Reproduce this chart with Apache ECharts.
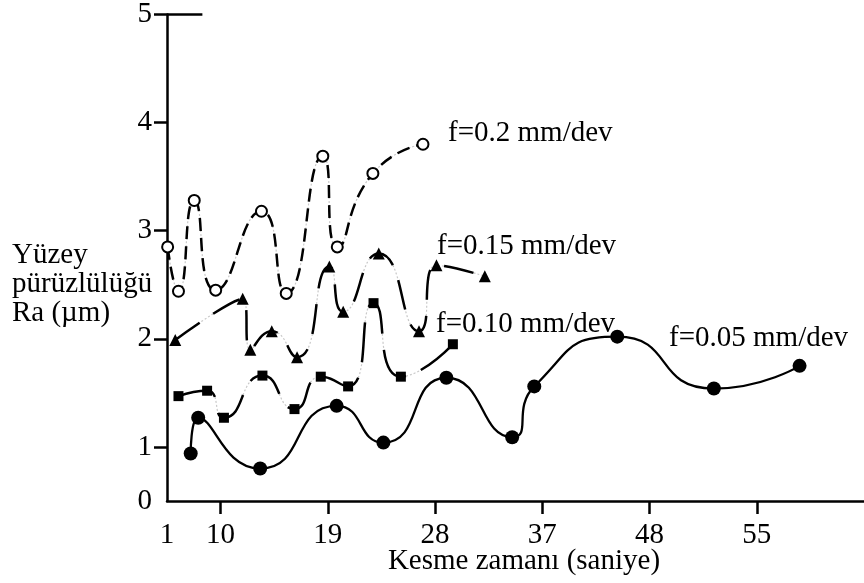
<!DOCTYPE html>
<html>
<head>
<meta charset="utf-8">
<script src="https://cdn.jsdelivr.net/npm/echarts@6/dist/echarts.min.js"></script>
<style>
  html, body { margin: 0; padding: 0; background: #fff; }
  #chart { width: 864px; height: 583px; }
</style>
</head>
<body>
<div id="chart"></div>
<script>
// Axis ticks: positions on the drawing scale (one unit per tick step) and their printed labels
const xTickPos = [0.5, 1, 2, 3, 4, 5, 6];
const xTickLabels = ['1', '10', '19', '28', '37', '48', '55'];
const yTickPos = [0.5, 1, 2, 3, 4, 5];
const yTickLabels = ['0', '1', '2', '3', '4', '5'];

// Feed rate series: x on the tick-step scale, y = Ra (µm)
const f02X = [0.506, 0.607, 0.754, 0.954, 1.381, 1.612, 1.953, 2.088, 2.420, 2.887];
const f02Y = [2.85, 2.44, 3.28, 2.45, 3.18, 2.42, 3.69, 2.85, 3.53, 3.80];

const f015X = [0.577, 1.206, 1.277, 1.477, 1.713, 2.014, 2.143, 2.475, 2.850, 3.013, 3.464];
const f015Y = [1.99, 2.37, 1.90, 2.07, 1.83, 2.67, 2.25, 2.79, 2.07, 2.68, 2.58];

const f010X = [0.607, 0.874, 1.031, 1.390, 1.689, 1.934, 2.189, 2.426, 2.681, 3.166];
const f010Y = [1.47, 1.52, 1.27, 1.66, 1.35, 1.65, 1.56, 2.33, 1.65, 1.95];

const f005X = [0.721, 0.791, 1.369, 2.082, 2.518, 3.105, 3.719, 3.925, 4.699, 5.600, 6.399];
const f005Y = [0.94, 1.27, 0.80, 1.38, 1.04, 1.64, 1.09, 1.56, 2.02, 1.54, 1.75];

const seriesLabels = ['f=0.2 mm/dev', 'f=0.15 mm/dev', 'f=0.10 mm/dev', 'f=0.05 mm/dev'];
const xTitle = 'Kesme zamanı (saniye)';
const yTitle = 'Yüzey\npürüzlülüğü\nRa (µm)';

const FONT = '"Liberation Serif", "Times New Roman", serif';
const FS = 29;
const SMOOTH = 0.6;

function pairs(xs, ys) { return xs.map((x, i) => [x, ys[i]]); }

// Light dotted trace under each dashed curve
function traceSeries(data) {
  return {
    type: 'line', data, smooth: SMOOTH, symbol: 'none', silent: true, z: 1,
    lineStyle: { color: '#c9c9c9', width: 1.2, type: [2, 2] }
  };
}

function mainSeries(name, data, symbol, size, fill, dash, width) {
  return {
    name, type: 'line', data, smooth: SMOOTH, z: 3,
    symbol, symbolSize: size, showAllSymbol: true,
    itemStyle: { color: fill, borderColor: '#000', borderWidth: fill === '#fff' ? 2 : 0 },
    lineStyle: { color: '#000', width, type: dash }
  };
}

function label(text, x, y, extra) {
  return { type: 'text', x, y, style: Object.assign({ text, font: `${FS}px ${FONT}`, fill: '#000', verticalAlign: 'middle' }, extra || {}) };
}

const chart = echarts.init(document.getElementById('chart'), null, { renderer: 'canvas' });

const solid = mainSeries(seriesLabels[3], pairs(f005X, f005Y), 'circle', 14, '#000', 'solid', 2.3);
// short cap line at the top of the value axis
solid.markLine = {
  silent: true, symbol: 'none', label: { show: false },
  lineStyle: { color: '#000', width: 2.5, type: 'solid' },
  data: [[{ coord: [0.5, 5] }, { coord: [0.83, 5] }]]
};

chart.setOption({
  backgroundColor: '#fff',
  animation: false,
  grid: { left: 167, right: -8, top: 12, bottom: 82, containLabel: false },
  xAxis: {
    type: 'value', min: 0.5, max: 7,
    axisLine: { show: true, lineStyle: { color: '#000', width: 2.5 } },
    axisTick: { show: true, customValues: xTickPos.slice(1), length: 13, lineStyle: { color: '#000', width: 2.5 } },
    axisLabel: {
      customValues: xTickPos, margin: 20,
      formatter: v => xTickLabels[xTickPos.indexOf(v)] ?? '',
      fontFamily: FONT, fontSize: FS, color: '#000'
    },
    splitLine: { show: false }
  },
  yAxis: {
    type: 'value', min: 0.5, max: 5,
    axisLine: { show: true, onZero: false, lineStyle: { color: '#000', width: 2.5 } },
    axisTick: { show: true, customValues: yTickPos.slice(1), length: 13, lineStyle: { color: '#000', width: 2.5 } },
    axisLabel: {
      customValues: yTickPos, margin: 15,
      formatter: v => yTickLabels[yTickPos.indexOf(v)] ?? '',
      fontFamily: FONT, fontSize: FS, color: '#000'
    },
    splitLine: { show: false }
  },
  series: [
    traceSeries(pairs(f02X, f02Y)),
    traceSeries(pairs(f015X, f015Y)),
    traceSeries(pairs(f010X, f010Y)),
    mainSeries(seriesLabels[0], pairs(f02X, f02Y), 'circle', 11, '#fff', [13, 7], 2.5),
    mainSeries(seriesLabels[1], pairs(f015X, f015Y), 'triangle', 12, '#000', [30, 16], 2.5),
    mainSeries(seriesLabels[2], pairs(f010X, f010Y), 'rect', 10, '#000', [40, 16], 2.5),
    solid
  ],
  graphic: [
    label(seriesLabels[0], 448, 133),
    label(seriesLabels[1], 437, 246),
    label(seriesLabels[2], 436, 324),
    label(seriesLabels[3], 669, 338),
    label(xTitle, 524, 561, { align: 'center' }),
    label(yTitle, 12, 241, { lineHeight: 29, verticalAlign: 'top' })
  ]
});
</script>
</body>
</html>
